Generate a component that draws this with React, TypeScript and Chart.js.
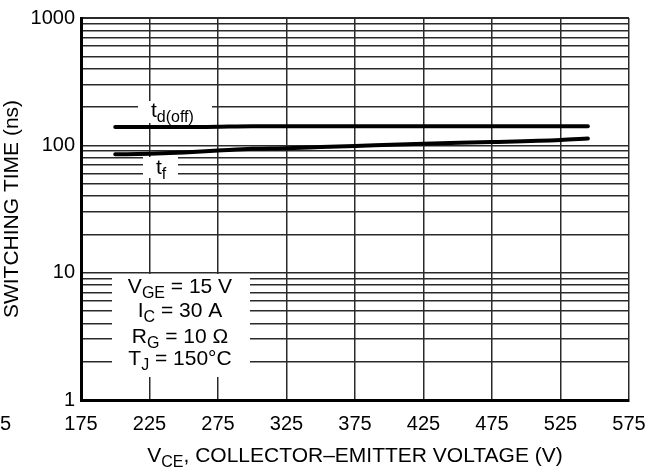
import React, { useEffect, useRef } from "react";
import { Chart, registerables } from "chart.js";

Chart.register(...registerables);

// ---- data ----
const xTicks = [175, 225, 275, 325, 375, 425, 475, 525, 575];
const xClippedTickLabel = "125";
const xClippedTickValue = 125;
const yTickLabels = [1, 10, 100, 1000];
const yDecades = [1, 10, 100];

const tdVoltage = [200, 250, 275, 300, 350, 425, 475, 545];
const tdTime = [139, 139, 140, 141, 141, 141, 141, 141];

const tfVoltage = [200, 225, 250, 275, 300, 325, 350, 375, 425, 475, 525, 545];
const tfTime = [85, 86, 88, 91, 94, 95, 97, 99, 103, 106, 110, 113];

const conditionLines: [string, string, string][] = [
  ["V", "GE", " = 15 V"],
  ["I", "C", " = 30 A"],
  ["R", "G", " = 10 Ω"],
  ["T", "J", " = 150°C"],
];

const FONT = '"Liberation Sans", Arial, Helvetica, sans-serif';
const TICK = 20;
const MAIN = 21;
const SUB = 16;

type Part = { t: string; sub?: boolean };

function richWidth(ctx: CanvasRenderingContext2D, parts: Part[]) {
  let w = 0;
  for (const p of parts) {
    ctx.font = `${p.sub ? SUB : MAIN}px ${FONT}`;
    w += ctx.measureText(p.t).width;
  }
  return w;
}

function drawRich(
  ctx: CanvasRenderingContext2D,
  parts: Part[],
  x: number,
  baseline: number,
  align: "left" | "center" = "left"
) {
  let cx = x;
  if (align === "center") cx = x - richWidth(ctx, parts) / 2;
  ctx.textAlign = "left";
  ctx.textBaseline = "alphabetic";
  ctx.fillStyle = "#000";
  for (const p of parts) {
    ctx.font = `${p.sub ? SUB : MAIN}px ${FONT}`;
    ctx.fillText(p.t, cx, baseline + (p.sub ? 5 : 0));
    cx += ctx.measureText(p.t).width;
  }
}

const annotations = {
  id: "annotations",
  beforeDatasetsDraw(chart: any) {
    const ctx: CanvasRenderingContext2D = chart.ctx;
    ctx.save();
    ctx.fillStyle = "#fff";
    ctx.fillRect(138, 101, 74, 22);
    ctx.fillRect(143, 157, 35, 21);
    ctx.fillRect(112, 274, 138, 103);
    ctx.restore();
  },
  afterDatasetsDraw(chart: any) {
    const ctx: CanvasRenderingContext2D = chart.ctx;
    const xs = chart.scales.x;
    ctx.save();
    // series labels
    drawRich(ctx, [{ t: "t" }, { t: "d(off)", sub: true }], 151, 117);
    drawRich(ctx, [{ t: "t" }, { t: "f", sub: true }], 156, 174);
    // conditions
    const baselines = [293, 317, 343, 365];
    conditionLines.forEach((l, i) => {
      drawRich(ctx, [{ t: l[0] }, { t: l[1], sub: true }, { t: l[2] }], 180, baselines[i], "center");
    });
    // x axis title
    drawRich(
      ctx,
      [{ t: "V" }, { t: "CE", sub: true }, { t: ", COLLECTOR\u2013EMITTER VOLTAGE (V)" }],
      (chart.chartArea.left + chart.chartArea.right) / 2,
      462,
      "center"
    );
    // clipped tick label at the far left
    ctx.font = `${TICK}px ${FONT}`;
    ctx.fillStyle = "#000";
    ctx.textAlign = "center";
    ctx.textBaseline = "alphabetic";
    ctx.fillText(xClippedTickLabel, xs.getPixelForValue(xClippedTickValue) - 18, 430);
    ctx.restore();
  },
};

export default function App() {
  const ref = useRef<HTMLCanvasElement | null>(null);
  useEffect(() => {
    if (!ref.current) return;
    const gridValues: number[] = [];
    yDecades.forEach((d) => {
      for (let k = 1; k <= 9; k++) gridValues.push(k * d);
    });
    gridValues.push(1000);

    const chart = new Chart(ref.current, {
      type: "line",
      data: {
        datasets: [
          {
            label: "td(off)",
            data: tdVoltage.map((v, i) => ({ x: v, y: tdTime[i] })),
            borderColor: "#000",
            borderWidth: 4,
            pointRadius: 0,
            borderCapStyle: "round",
            cubicInterpolationMode: "monotone",
          },
          {
            label: "tf",
            data: tfVoltage.map((v, i) => ({ x: v, y: tfTime[i] })),
            borderColor: "#000",
            borderWidth: 4,
            pointRadius: 0,
            borderCapStyle: "round",
            cubicInterpolationMode: "monotone",
          },
        ],
      },
      options: {
        animation: false,
        responsive: false,
        layout: { padding: { left: 0, right: 32, top: 15, bottom: 0 } },
        plugins: { legend: { display: false }, tooltip: { enabled: false } },
        scales: {
          x: {
            type: "linear",
            min: 175,
            max: 575,
            afterBuildTicks: (s: any) => {
              s.ticks = xTicks.map((v) => ({ value: v }));
            },
            afterFit: (s: any) => {
              s.height = 73;
            },
            grid: { color: "#2a2a2a", lineWidth: 1.5, drawTicks: false },
            border: { display: true, color: "#000", width: 3 },
            ticks: {
              color: "#000",
              font: { family: FONT, size: TICK },
              padding: 12,
              maxRotation: 0,
              autoSkip: false,
              callback: (v: any) => String(v),
            },
          },
          y: {
            type: "logarithmic",
            min: 1,
            max: 1000,
            afterBuildTicks: (s: any) => {
              s.ticks = gridValues.map((v) => ({ value: v }));
            },
            afterFit: (s: any) => {
              s.width = 81;
            },
            grid: {
              color: "#2a2a2a",
              lineWidth: (c: any) => (c.tick && c.tick.value === 1000 ? 2 : 1.5),
              drawTicks: false,
            },
            border: { display: true, color: "#000", width: 3 },
            ticks: {
              color: "#000",
              font: { family: FONT, size: TICK },
              padding: 6,
              autoSkip: false,
              callback: (v: any) => (yTickLabels.includes(Number(v)) ? String(v) : ""),
            },
            title: {
              display: true,
              text: "SWITCHING TIME (ns)",
              color: "#000",
              font: { family: FONT, size: MAIN },
              padding: { top: 0, bottom: 0 },
            },
          },
        },
      },
      plugins: [annotations],
    });
    return () => chart.destroy();
  }, []);

  return (
    <div style={{ position: "fixed", left: 0, top: 0, width: 661, height: 473, background: "#fff" }}>
      <canvas ref={ref} width={661} height={473} />
    </div>
  );
}
